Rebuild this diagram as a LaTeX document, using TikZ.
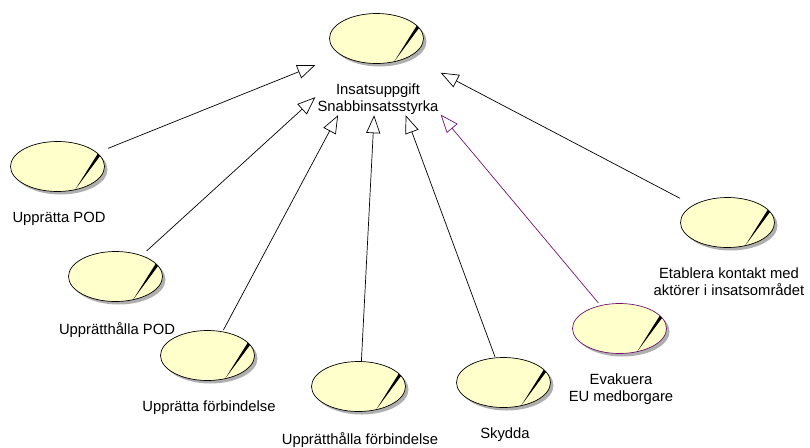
\documentclass[tikz,border=0pt]{standalone}
\usepackage{fontspec}
\setmainfont{Liberation Sans}
\usetikzlibrary{positioning,arrows.meta}

\definecolor{ucfill}{RGB}{255,255,204}
\definecolor{ucpurple}{RGB}{112,20,112}
\definecolor{ucshadow}{RGB}{175,175,175}

\tikzset{
  usecase/.style={rectangle, minimum width=98pt, minimum height=54pt, inner sep=0pt, outer sep=0pt,
    path picture={
      \coordinate (e) at ([shift={(-1.5pt,1.5pt)}]path picture bounding box.center);
      \fill[ucshadow] ([shift={(3pt,-3pt)}]e) ellipse [x radius=47pt, y radius=25pt];
      \filldraw[fill=ucfill, draw=#1, line width=0.7pt] (e) ellipse [x radius=47pt, y radius=25pt];
      \fill[black] ([shift={(-68:47pt and 25pt)}]e) -- ([shift={(25:47pt and 25pt)}]e)
        -- ([shift={(31:47pt and 25pt)}]e) -- cycle;
    }},
  usecase/.default=black,
  uclabel/.style={align=center, inner sep=0pt, font=\fontsize{14.8}{17}\selectfont},
  gen/.style={line width=0.7pt, -{Triangle[open, length=18pt, width=14pt]}},
}

\begin{document}
\begin{tikzpicture}[x=1pt, y=-1pt]
	\useasboundingbox (0,0) rectangle (810,447);

	\node[usecase] (task) at (378,40) {};
	\node[uclabel, below = 17pt of task] (taskL) {Insatsuppgift\\Snabbinsatsstyrka};
	\node[minimum width=125pt, minimum height=150pt, inner sep=0pt] (target) at (378,40) {};

	\node[usecase] (upod) at (59,168) {};
	\node[uclabel, below = 17pt of upod] (upodL) {Upprätta POD};
	\node[usecase] (uhpod) at (117,278) {};
	\node[uclabel, below = 17pt of uhpod] (uhpodL) {Upprätthålla POD};
	\node[usecase] (ufor) at (209,357) {};
	\node[uclabel, below = 17pt of ufor] (uforL) {Upprätta förbindelse};
	\node[usecase] (uhfor) at (360,388) {};
	\node[uclabel, below = 17pt of uhfor] (uhforL) {Upprätthålla förbindelse};
	\node[usecase] (skydda) at (505,384) {};
	\node[uclabel, below = 17pt of skydda] (skyddaL) {Skydda};
	\node[usecase=ucpurple] (evak) at (621,330) {};
	\node[uclabel, below = 17pt of evak] (evakL) {Evakuera\\EU medborgare};
	\node[usecase] (etab) at (729,224) {};
	\node[uclabel, below = 17pt of etab] (etabL) {Etablera kontakt med\\aktörer i insatsområdet};

	\draw[gen] (upod) -- (target);
	\draw[gen] (uhpod) -- (target);
	\draw[gen] (ufor) -- (target);
	\draw[gen] (uhfor) -- (target);
	\draw[gen] (skydda) -- (target);
	\draw[gen, ucpurple] (evak) -- (target);
	\draw[gen] (etab) -- (target);
\end{tikzpicture}
\end{document}
